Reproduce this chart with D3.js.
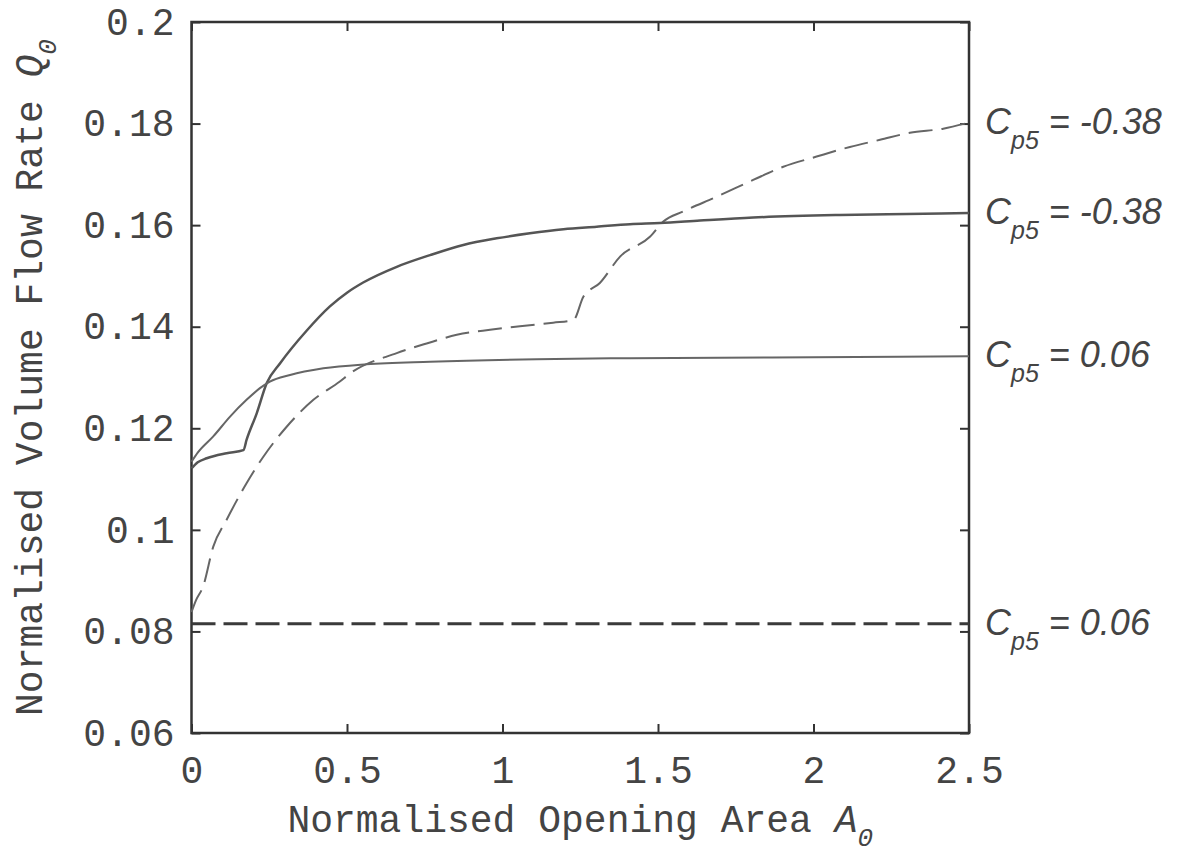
<!DOCTYPE html>
<html>
<head>
<meta charset="utf-8">
<script src="https://cdn.jsdelivr.net/npm/d3@7"></script>
<style>
  html, body { margin: 0; padding: 0; background: #fff; }
  svg { display: block; }
</style>
</head>
<body>
<svg id="chart" width="1188" height="855"></svg>
<script>
// Axis ticks and labels
const xTicks = [0, 0.5, 1, 1.5, 2, 2.5];
const xTickLabels = ["0", "0.5", "1", "1.5", "2", "2.5"];
const yTicks = [0.06, 0.08, 0.1, 0.12, 0.14, 0.16, 0.18, 0.2];
const yTickLabels = ["0.06", "0.08", "0.1", "0.12", "0.14", "0.16", "0.18", "0.2"];

// Cp5 = -0.38, dashed curve
const areaDashedNeg = [0, 0.015, 0.037, 0.07, 0.113, 0.177, 0.231, 0.306, 0.392, 0.477, 0.51, 0.66, 0.756, 0.853, 0.96, 1.056, 1.163, 1.228, 1.26, 1.313, 1.378, 1.474, 1.517, 1.581, 1.689, 1.806, 1.903, 2.01, 2.117, 2.214, 2.31, 2.417, 2.5];
const flowDashedNeg = [0.0838, 0.0862, 0.0888, 0.0967, 0.1020, 0.1092, 0.1144, 0.1203, 0.1256, 0.1292, 0.1308, 0.1348, 0.1367, 0.1384, 0.1394, 0.1401, 0.1408, 0.1413, 0.1459, 0.1486, 0.1538, 0.1577, 0.1607, 0.1627, 0.1656, 0.1689, 0.1715, 0.1735, 0.1754, 0.1768, 0.1782, 0.1790, 0.1802];

// Cp5 = -0.38, solid curve
const areaSolidNeg = [0, 0.02, 0.049, 0.113, 0.167, 0.177, 0.21, 0.242, 0.285, 0.37, 0.445, 0.50, 0.552, 0.66, 0.767, 0.874, 0.981, 1.088, 1.196, 1.303, 1.41, 1.506, 1.635, 1.806, 2.085, 2.3, 2.5];
const flowSolidNeg = [0.1121, 0.1133, 0.1141, 0.1151, 0.1157, 0.1177, 0.1230, 0.1289, 0.1328, 0.1392, 0.1440, 0.1467, 0.1487, 0.1518, 0.1541, 0.1561, 0.1574, 0.1584, 0.1592, 0.1597, 0.1602, 0.1604, 0.1609, 0.1615, 0.1620, 0.1622, 0.1624];

// Cp5 = 0.06, solid curve
const areaSolidPos = [0, 0.02, 0.07, 0.124, 0.177, 0.22, 0.252, 0.317, 0.424, 0.563, 0.767, 1.11, 1.41, 2.0, 2.5];
const flowSolidPos = [0.1134, 0.1152, 0.1184, 0.1223, 0.1256, 0.1279, 0.1292, 0.1305, 0.1318, 0.1326, 0.1331, 0.1336, 0.1338, 0.1340, 0.1342];

// Cp5 = 0.06, dashed line
const areaDashedPos = [0, 2.5];
const flowDashedPos = [0.0815, 0.0815];

const seriesLabels = ["-0.38", "-0.38", "0.06", "0.06"];

const series = [
  { area: areaDashedNeg, flow: flowDashedNeg, label: seriesLabels[0], dash: "24,9", width: 2, color: "#666" },
  { area: areaSolidNeg, flow: flowSolidNeg, label: seriesLabels[1], dash: null, width: 2.5, color: "#555" },
  { area: areaSolidPos, flow: flowSolidPos, label: seriesLabels[2], dash: null, width: 2, color: "#666" },
  { area: areaDashedPos, flow: flowDashedPos, label: seriesLabels[3], dash: "24,8", width: 3, color: "#3a3a3a" }
];

const svg = d3.select("#chart");
const x = d3.scaleLinear().domain([0, 2.5]).range([191.5, 969]);
const y = d3.scaleLinear().domain([0.06, 0.2]).range([733, 22]);

const monoFont = "'Liberation Mono', 'Courier New', monospace";
const sansFont = "'Liberation Sans', Arial, sans-serif";

function styleAxis(g) {
  g.select(".domain").remove();
  g.selectAll(".tick line").attr("stroke", "#333").attr("stroke-width", 2);
  g.selectAll(".tick text")
    .attr("fill", "#444")
    .style("font-family", monoFont)
    .style("font-size", "38px");
}

svg.append("g")
  .attr("transform", `translate(0,${y(0.06)})`)
  .call(d3.axisBottom(x).tickValues(xTicks).tickFormat((d, i) => xTickLabels[i])
    .tickSizeInner(-9).tickSizeOuter(0).tickPadding(23))
  .call(styleAxis);

svg.append("g")
  .attr("transform", `translate(${x(0)},0)`)
  .call(d3.axisLeft(y).tickValues(yTicks).tickFormat((d, i) => yTickLabels[i])
    .tickSizeInner(-9).tickSizeOuter(0).tickPadding(17))
  .call(styleAxis);

svg.append("g")
  .attr("transform", `translate(0,${y(0.2)})`)
  .call(d3.axisTop(x).tickValues(xTicks).tickFormat("").tickSizeInner(-9).tickSizeOuter(0))
  .call(styleAxis);

svg.append("g")
  .attr("transform", `translate(${x(2.5)},0)`)
  .call(d3.axisRight(y).tickValues(yTicks).tickFormat("").tickSizeInner(-9).tickSizeOuter(0))
  .call(styleAxis);

// Plot frame
svg.append("rect")
  .attr("x", x(0)).attr("y", y(0.2))
  .attr("width", x(2.5) - x(0)).attr("height", y(0.06) - y(0.2))
  .attr("fill", "none").attr("stroke", "#333").attr("stroke-width", 2.5);

// Curves
const line = d3.line().x(d => x(d[0])).y(d => y(d[1])).curve(d3.curveMonotoneX);
series.forEach(s => {
  const pts = s.area.map((a, i) => [a, s.flow[i]]);
  svg.append("path")
    .datum(pts)
    .attr("d", line)
    .attr("fill", "none")
    .attr("stroke", s.color)
    .attr("stroke-width", s.width)
    .attr("stroke-linejoin", "round")
    .attr("stroke-dasharray", s.dash);
});

// End-of-curve labels
series.forEach(s => {
  const endFlow = s.flow[s.flow.length - 1];
  const t = svg.append("text")
    .attr("x", 985)
    .attr("y", y(endFlow) + 11)
    .attr("fill", "#444")
    .style("font-family", sansFont)
    .style("font-style", "italic")
    .style("font-size", "36px");
  t.append("tspan").text("C");
  t.append("tspan").attr("dy", 15).style("font-size", "25px").text("p5");
  t.append("tspan").attr("dy", -15).attr("dx", 10).text("= " + s.label);
});

// Axis titles
const xTitle = svg.append("text")
  .attr("x", (x(0) + x(2.5)) / 2)
  .attr("y", 832)
  .attr("text-anchor", "middle")
  .attr("fill", "#444")
  .style("font-family", monoFont)
  .style("font-size", "38px");
xTitle.append("tspan").text("Normalised Opening Area ");
xTitle.append("tspan").style("font-style", "italic").text("A");
xTitle.append("tspan").attr("dy", 14).style("font-style", "italic").style("font-size", "26px").text("0");

const yTitle = svg.append("text")
  .attr("transform", `translate(42,${(y(0.06) + y(0.2)) / 2}) rotate(-90)`)
  .attr("text-anchor", "middle")
  .attr("fill", "#444")
  .style("font-family", monoFont)
  .style("font-size", "38px");
yTitle.append("tspan").text("Normalised Volume Flow Rate ");
yTitle.append("tspan").style("font-style", "italic").text("Q");
yTitle.append("tspan").attr("dy", 14).style("font-style", "italic").style("font-size", "26px").text("0");
</script>
</body>
</html>
